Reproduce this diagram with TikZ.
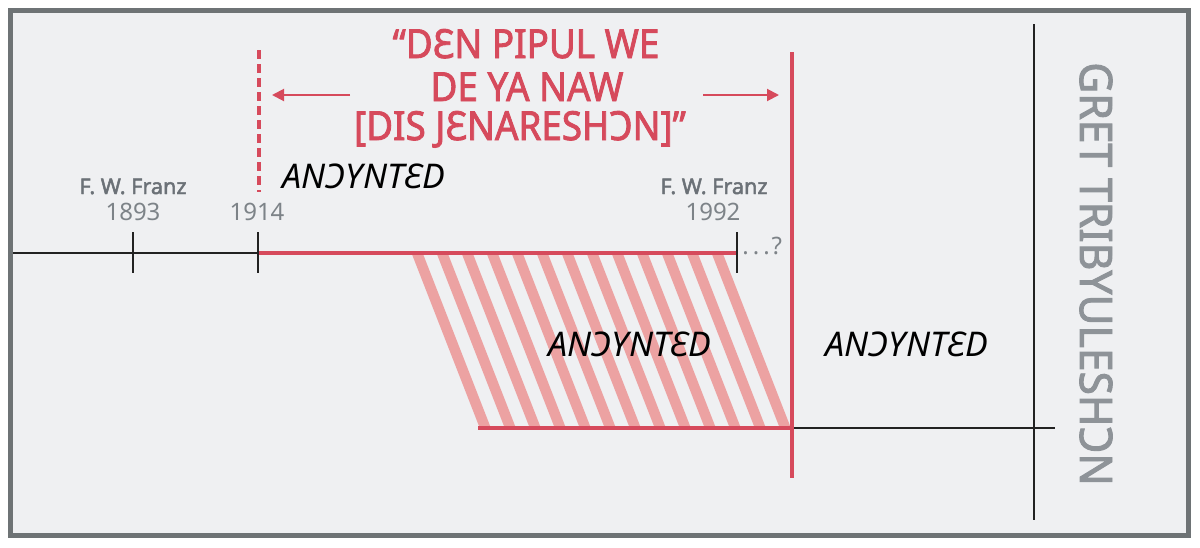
\documentclass[tikz,border=0pt]{standalone}
\usepackage{fontspec}
\setmainfont{Noto Sans}
\newfontfamily\heavysans{Noto Sans}[FakeBold=2.2]
\usetikzlibrary{arrows.meta}
\definecolor{frame}{HTML}{6E7375}
\definecolor{panel}{HTML}{EFF0F2}
\definecolor{accent}{HTML}{D64A5C}
\definecolor{stripe}{HTML}{ECA2A2}
\definecolor{ink}{HTML}{222222}
\definecolor{label}{HTML}{6B7177}
\definecolor{yeargray}{HTML}{7D8388}
\definecolor{sidegray}{HTML}{8E9398}
\begin{document}
\begin{tikzpicture}[x=0.5pt,y=-0.5pt,
  redline/.style={draw=accent,line width=2.2pt},
  blackline/.style={draw=ink,line width=1.4pt},
  titletxt/.style={text=accent,font=\heavysans\fontsize{20}{20.5}\selectfont,inner sep=0pt,anchor=base},
  era/.style={font=\itshape\fontsize{17}{17}\selectfont,text=black,inner sep=0pt},
  who/.style={font=\heavysans\fontsize{10.8}{11}\selectfont,text=label,inner sep=0pt,anchor=base},
  yr/.style={font=\fontsize{12}{12}\selectfont,text=yeargray,inner sep=0pt,anchor=base},
  arr/.style={draw=accent,line width=1pt,-{Triangle[length=6pt,width=6pt]}},
  stripeline/.style={draw=stripe,line width=5.2pt}
]
\useasboundingbox (0,0) rectangle (1200,547);
\fill[white] (0,0) rectangle (1200,547);
\draw[line width=2.5pt,draw=frame,fill=panel] (10.5,10) rectangle (1188,535);

% hatched region
\begin{scope}
  \clip (410,255) -- (737,255) -- (792,428) -- (478,428) -- cycle;
  \foreach \k in {-1,...,13} \draw[stripeline] ({412+25*\k},240) -- ({490+25*\k},440);
\end{scope}

% coordinates
\coordinate (l0) at (13,253);
\coordinate (t1893) at (133,253);
\coordinate (t1914) at (258,253);
\coordinate (t1992) at (737,253);
\coordinate (b0) at (478,428);
\coordinate (b1) at (792,428);
\coordinate (b2) at (1055,428);
\coordinate (rv0) at (792,52);
\coordinate (rv1) at (792,478);
\coordinate (kv0) at (1034,24);
\coordinate (kv1) at (1034,520);
\coordinate (d0) at (259,50);
\coordinate (d1) at (259,192);
\coordinate (la0) at (350,95);
\coordinate (la1) at (272,95);
\coordinate (ra0) at (703,95);
\coordinate (ra1) at (779,95);

% timeline
\draw[blackline] (l0) -- (t1914);
\draw[redline] (t1914) -- (t1992);
\draw[blackline] (t1893) +(0,-21) -- +(0,20);
\draw[blackline] (t1914) +(0,-21) -- +(0,20);
\draw[blackline] (t1992) +(0,-21) -- +(0,20);

% lower line
\draw[redline] (b0) -- (b1);
\draw[blackline] (b1) -- (b2);
\draw[blackline] (kv0) -- (kv1);
\draw[redline] (rv0) -- (rv1);

% dashed marker
\draw[draw=accent,line width=1.6pt,dash pattern=on 4.5pt off 2.5pt] (d0) -- (d1);

% arrows
\draw[arr] (la0) -- (la1);
\draw[arr] (ra0) -- (ra1);

% title
\node[titletxt] (title1) at (526,58) {\scalebox{0.92}[1]{“DƐN PIPUL WE}};
\node[titletxt] (title2) at (527,101) {\scalebox{0.92}[1]{DE YA NAW}};
\node[titletxt] (title3) at (520,140) {\scalebox{0.92}[1]{{[}DIS JƐNARESHƆN{]}”}};

% era labels
\node[era] (era1) at (364,176) {ANƆYNTƐD};
\node[era] (era2) at (630,344) {ANƆYNTƐD};
\node[era] (era3) at (907,344) {ANƆYNTƐD};

% names and years
\node[who] (fw1) at (133,194) {F. W. Franz};
\node[yr] (y1893) at (133,220) {1893};
\node[yr] (y1914) at (257,220) {1914};
\node[who] (fw2) at (714,194) {F. W. Franz};
\node[yr] (y1992) at (713,220) {1992};
\node[yr,anchor=base west] (q) at (742,254) {.\hspace{2pt}.\hspace{2pt}.\hspace{1pt}?};

% side label
\node[rotate=-90,text=sidegray,font=\heavysans\fontsize{22.4}{23}\selectfont,inner sep=0pt] (side) at (1096,274) {\scalebox{0.95}[1]{GRET TRIBYULESHƆN}};
\end{tikzpicture}
\end{document}
